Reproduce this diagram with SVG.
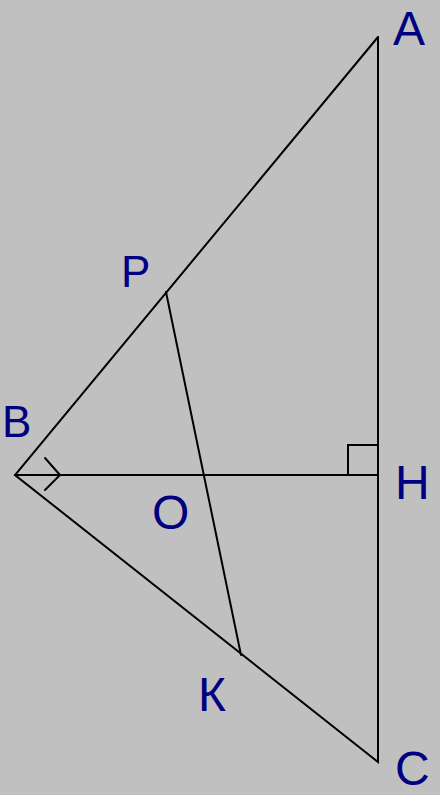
<svg xmlns="http://www.w3.org/2000/svg" width="440" height="795" viewBox="0 0 440 795">
<style>
.ln{stroke:#000;stroke-width:2;fill:none;stroke-linecap:round;stroke-linejoin:miter}
.lb{font-family:"Liberation Sans",Arial,sans-serif;fill:#000080;font-size:48px}
</style>
<rect width="440" height="795" fill="#c0c0c0"/>
<g id="connectors">
<polyline class="ln" points="378,37 15,475 378,762 378,37"/>
<line class="ln" x1="15" y1="475" x2="378" y2="475"/>
<line class="ln" x1="166" y1="292" x2="241" y2="655"/>
<polyline class="ln" points="45,458 60,475 45,490"/>
<polyline class="ln" points="348,475 348,445 378,445"/>
</g>
<g id="A"><text class="lb" x="393" y="45">A</text></g>
<g id="B"><text class="lb" x="2" y="437" style="font-size:44px">B</text></g>
<g id="H"><text class="lb" x="395" y="499">H</text></g>
<g id="P"><text class="lb" x="121" y="287" style="font-size:44px">P</text></g>
<g id="K"><text class="lb" x="198" y="711">К</text></g>
<g id="O"><text class="lb" x="152" y="529">O</text></g>
<g id="C"><text class="lb" x="395" y="785">C</text></g>
</svg>
